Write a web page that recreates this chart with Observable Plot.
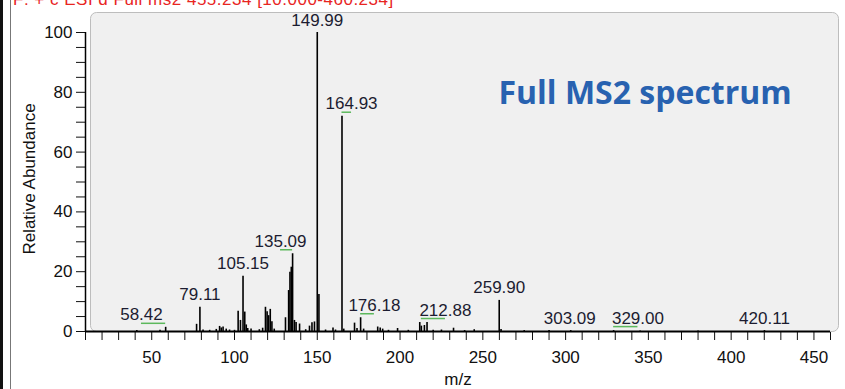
<!DOCTYPE html>
<html>
<head>
<meta charset="utf-8">
<script src="https://cdn.jsdelivr.net/npm/d3@7"></script>
<script src="https://cdn.jsdelivr.net/npm/@observablehq/plot@0.6"></script>
<style>
  html, body { margin: 0; padding: 0; background: #fff; }
  #wrap { position: relative; width: 845px; height: 389px; overflow: hidden; background: #fff; }
  #header { position: absolute; left: 13px; top: -10px; font: 17px "Liberation Sans", Arial, sans-serif; line-height: 20px; color: #e8251f; white-space: nowrap; letter-spacing: 0.5px; }
  #edge1 { position: absolute; left: 0; top: 0; width: 3px; height: 389px; background: #111; }
  #edge2 { position: absolute; left: 10px; top: 0; width: 1px; height: 389px; background: #777; }
  #chart { position: absolute; left: 0; top: 0; }
</style>
</head>
<body>
<div id="wrap">
  <div id="chart"></div>
  <div id="header">F: + c ESI d Full ms2 455.234 [10.000-460.234]</div>
  <div id="edge1"></div>
  <div id="edge2"></div>
</div>
<script>
// ---- data ----
const peakMz = [
  41.0, 55.0, 58.42, 77.1, 79.11, 81.0, 85.0, 89.0, 91.0, 92.0, 93.1, 95.0, 97.0, 100.0,
  102.2, 103.6, 105.15, 106.2, 107.1, 108.0, 110.0, 115.0, 117.0,
  118.7, 119.7, 120.6, 121.6, 122.6, 124.0,
  130.8, 132.7, 133.5, 134.3, 135.09, 136.2, 137.2, 139.3, 143.0, 145.3, 146.8, 148.3,
  149.99, 151.0, 155.0, 159.5, 161.0, 164.93, 166.0,
  172.5, 174.0, 176.18, 178.0, 186.5, 188.0, 189.5, 193.0, 198.5, 205.0,
  211.9, 212.88, 214.7, 216.3, 220.0, 225.0, 232.3, 239.0, 244.8,
  259.90, 261.0, 275.0, 290.0, 303.09, 329.00, 345.0, 380.0, 420.11
];
const peakInt = [
  0.3, 0.4, 1.4, 2.4, 8.1, 0.5, 0.4, 0.7, 1.7, 1.2, 1.5, 0.8, 0.5, 0.4,
  6.8, 3.7, 18.5, 6.5, 2.2, 1.0, 0.8, 0.6, 1.1,
  8.1, 6.6, 5.3, 7.4, 3.3, 0.8,
  4.6, 13.7, 19.8, 21.5, 26.0, 3.7, 3.0, 2.5, 0.6, 1.8, 2.9, 3.2,
  100, 12.4, 0.5, 1.2, 0.5, 72.0, 0.8,
  2.8, 1.0, 4.6, 0.8, 1.5, 1.2, 0.8, 0.4, 1.0, 0.4,
  3.0, 1.8, 2.0, 3.0, 0.4, 0.5, 1.1, 0.3, 0.6,
  10.4, 0.7, 0.3, 0.3, 0.3, 0.3, 0.2, 0.2, 0.3
];
// labelled peaks: peak m/z, its height, and the m/z at which its label is centred
const labelMz   = [58.42, 79.11, 105.15, 135.09, 149.99, 164.93, 176.18, 212.88, 259.90, 303.09, 329.00, 420.11];
const labelText = ["58.42", "79.11", "105.15", "135.09", "149.99", "164.93", "176.18", "212.88", "259.90", "303.09", "329.00", "420.11"];
const labelInt  = [1.4, 8.1, 18.5, 26.0, 100, 72.0, 4.6, 3.0, 10.4, 0.3, 0.3, 0.3];
const labelAt   = [43.8, 79.11, 105.15, 127.8, 149.99, 170.7, 184.5, 227.4, 259.90, 302.5, 343.7, 420.11];

const xMajorTicks = [50, 100, 150, 200, 250, 300, 350, 400, 450];
const yMajorTicks = [0, 20, 40, 60, 80, 100];
const xTicks = d3.range(10, 461, 10);
const yTicks = d3.range(0, 101, 5);

const titleText = "Full MS2 spectrum";
const xLabel = "m/z";
const yLabel = "Relative Abundance";

// ---- tables ----
const peaks = peakMz.map((mz, i) => ({mz, int: peakInt[i]}));
const labels = labelMz.map((mz, i) => ({mz, at: labelAt[i], int: labelInt[i], text: labelText[i]}));
const leaders = labels.filter(d => Math.abs(d.at - d.mz) > 2);

const font = '"Liberation Sans", Arial, sans-serif';

const chart = Plot.plot({
  width: 845,
  height: 389,
  marginTop: 32,
  marginBottom: 58,
  marginLeft: 85,
  marginRight: 15,
  style: {fontFamily: font, fontSize: "17px", color: "#111", background: "transparent"},
  x: {
    domain: [10, 460],
    ticks: xTicks,
    tickFormat: d => xMajorTicks.includes(d) ? String(d) : "",
    tickSize: 9,
    tickPadding: 10,
    label: null
  },
  y: {
    domain: [0, 100],
    ticks: yTicks,
    tickFormat: d => yMajorTicks.includes(d) ? String(d) : "",
    tickSize: 9,
    tickPadding: 4,
    label: null
  },
  marks: [
    Plot.frame({fill: "#f0f0f0", stroke: "#bdbdbd", strokeWidth: 1, insetLeft: 5, insetRight: -8, insetTop: -20, rx: 6}),
    Plot.ruleX(peaks, {x: "mz", y: "int", stroke: "#000", strokeWidth: 1.6}),
    Plot.ruleY([0], {stroke: "#000", strokeWidth: 2}),
    Plot.ruleX([10], {y1: 0, y2: 100, stroke: "#000", strokeWidth: 1.5}),
    Plot.ruleY(leaders, {x1: "mz", x2: "at", y: "int", dy: -4, stroke: "#5cb85c", strokeWidth: 1.5}),
    Plot.text(labels, {x: "at", y: "int", text: "text", lineAnchor: "bottom", dy: -7, fill: "#1c1c30", fontSize: 17}),
    Plot.text([titleText], {text: d => d, frameAnchor: "top-left", textAnchor: "start", lineAnchor: "top", dx: 413, dy: 49, fill: "#2862b0", fontSize: 32, fontWeight: "bold", fontFamily: '"Open Sans", sans-serif'}),
    Plot.text([xLabel], {text: d => d, frameAnchor: "bottom", lineAnchor: "top", dy: 41, fontSize: 17, fill: "#111"}),
    Plot.text([yLabel], {text: d => d, frameAnchor: "left", textAnchor: "middle", rotate: -90, dx: -56, dy: -3, fontSize: 17, fill: "#111"})
  ]
});
document.getElementById("chart").appendChild(chart);
</script>
</body>
</html>
